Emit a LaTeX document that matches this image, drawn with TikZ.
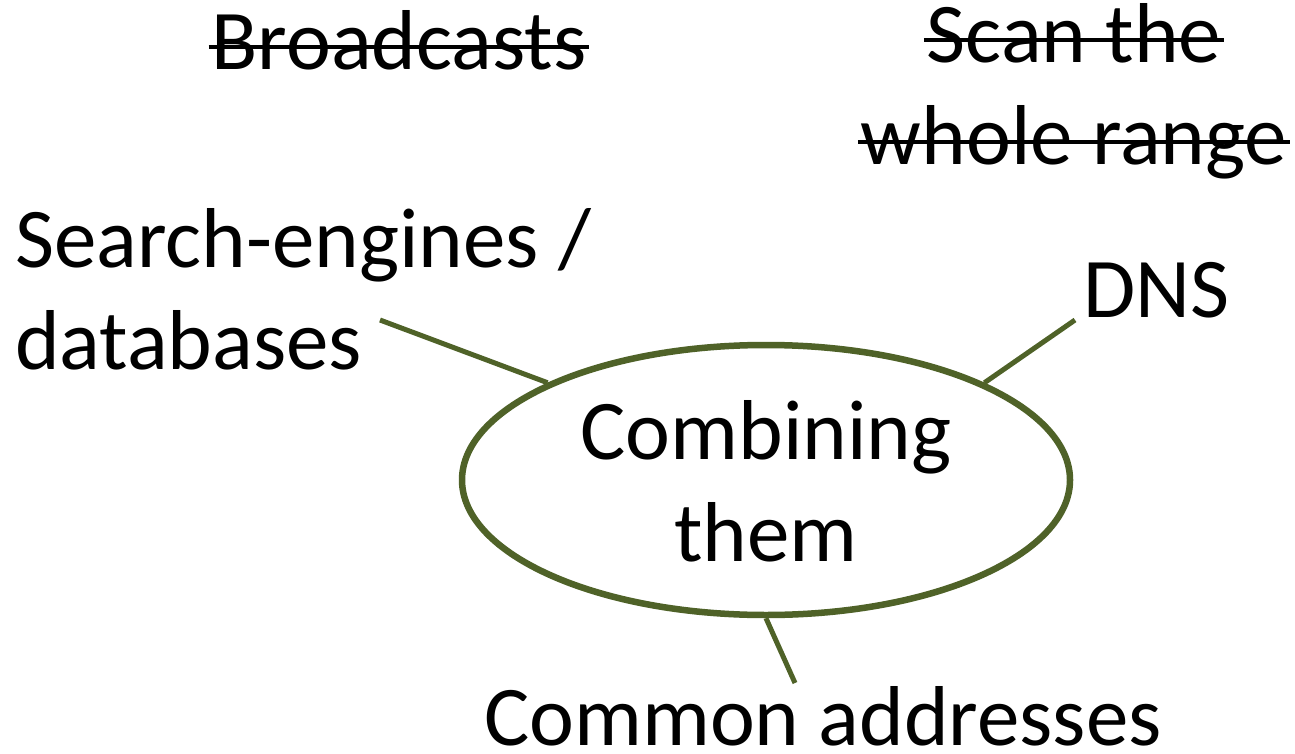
\documentclass[tikz,border=0pt]{standalone}
\usepackage{fontspec}
\setmainfont{Carlito}
\usetikzlibrary{shapes.geometric}
\definecolor{olive}{HTML}{4F6228}
\newcommand{\strk}[1]{\setbox0\hbox{#1}\rlap{\kern-3pt\rule[21pt]{\dimexpr\wd0+6pt\relax}{4pt}}\box0}
\tikzset{
  lbl/.style={inner sep=0pt, align=center, font=\fontsize{85}{102}\selectfont},
  conn/.style={draw=olive, line width=5pt},
}
\begin{document}
\begin{tikzpicture}[x=1pt,y=-1pt]
\useasboundingbox (0,0) rectangle (1295,754);
\fill[white] (0,0) rectangle (1295,754);
\node[lbl, anchor=base] (bc) at (399,70) {\strk{Broadcasts}};
\node[lbl, anchor=base] (scan) at (1074,165) {\strk{Scan the}\\\strk{whole range}};
\node[lbl, anchor=base west, align=left] (se) at (15,369) {Search-engines /\\databases};
\node[lbl, anchor=base west] (dns) at (1083,317) {DNS};
\node[lbl, anchor=base] (ca) at (823,745) {Common addresses};
\node[ellipse, draw=olive, line width=6.5pt, minimum width=608pt, minimum height=270pt, inner sep=0pt, fill=white] (ell) at (766,480) {};
\node[lbl, anchor=base] (comb) at (766,561) {Combining\\them};
\coordinate (seEnd) at (380,320);
\coordinate (dnsEnd) at (1075,320);
\coordinate (caEnd) at (795,683);
\draw[conn] (seEnd) -- (ell.156);
\draw[conn] (dnsEnd) -- (ell.24);
\draw[conn] (caEnd) -- (ell.-90.5);
\end{tikzpicture}
\end{document}
